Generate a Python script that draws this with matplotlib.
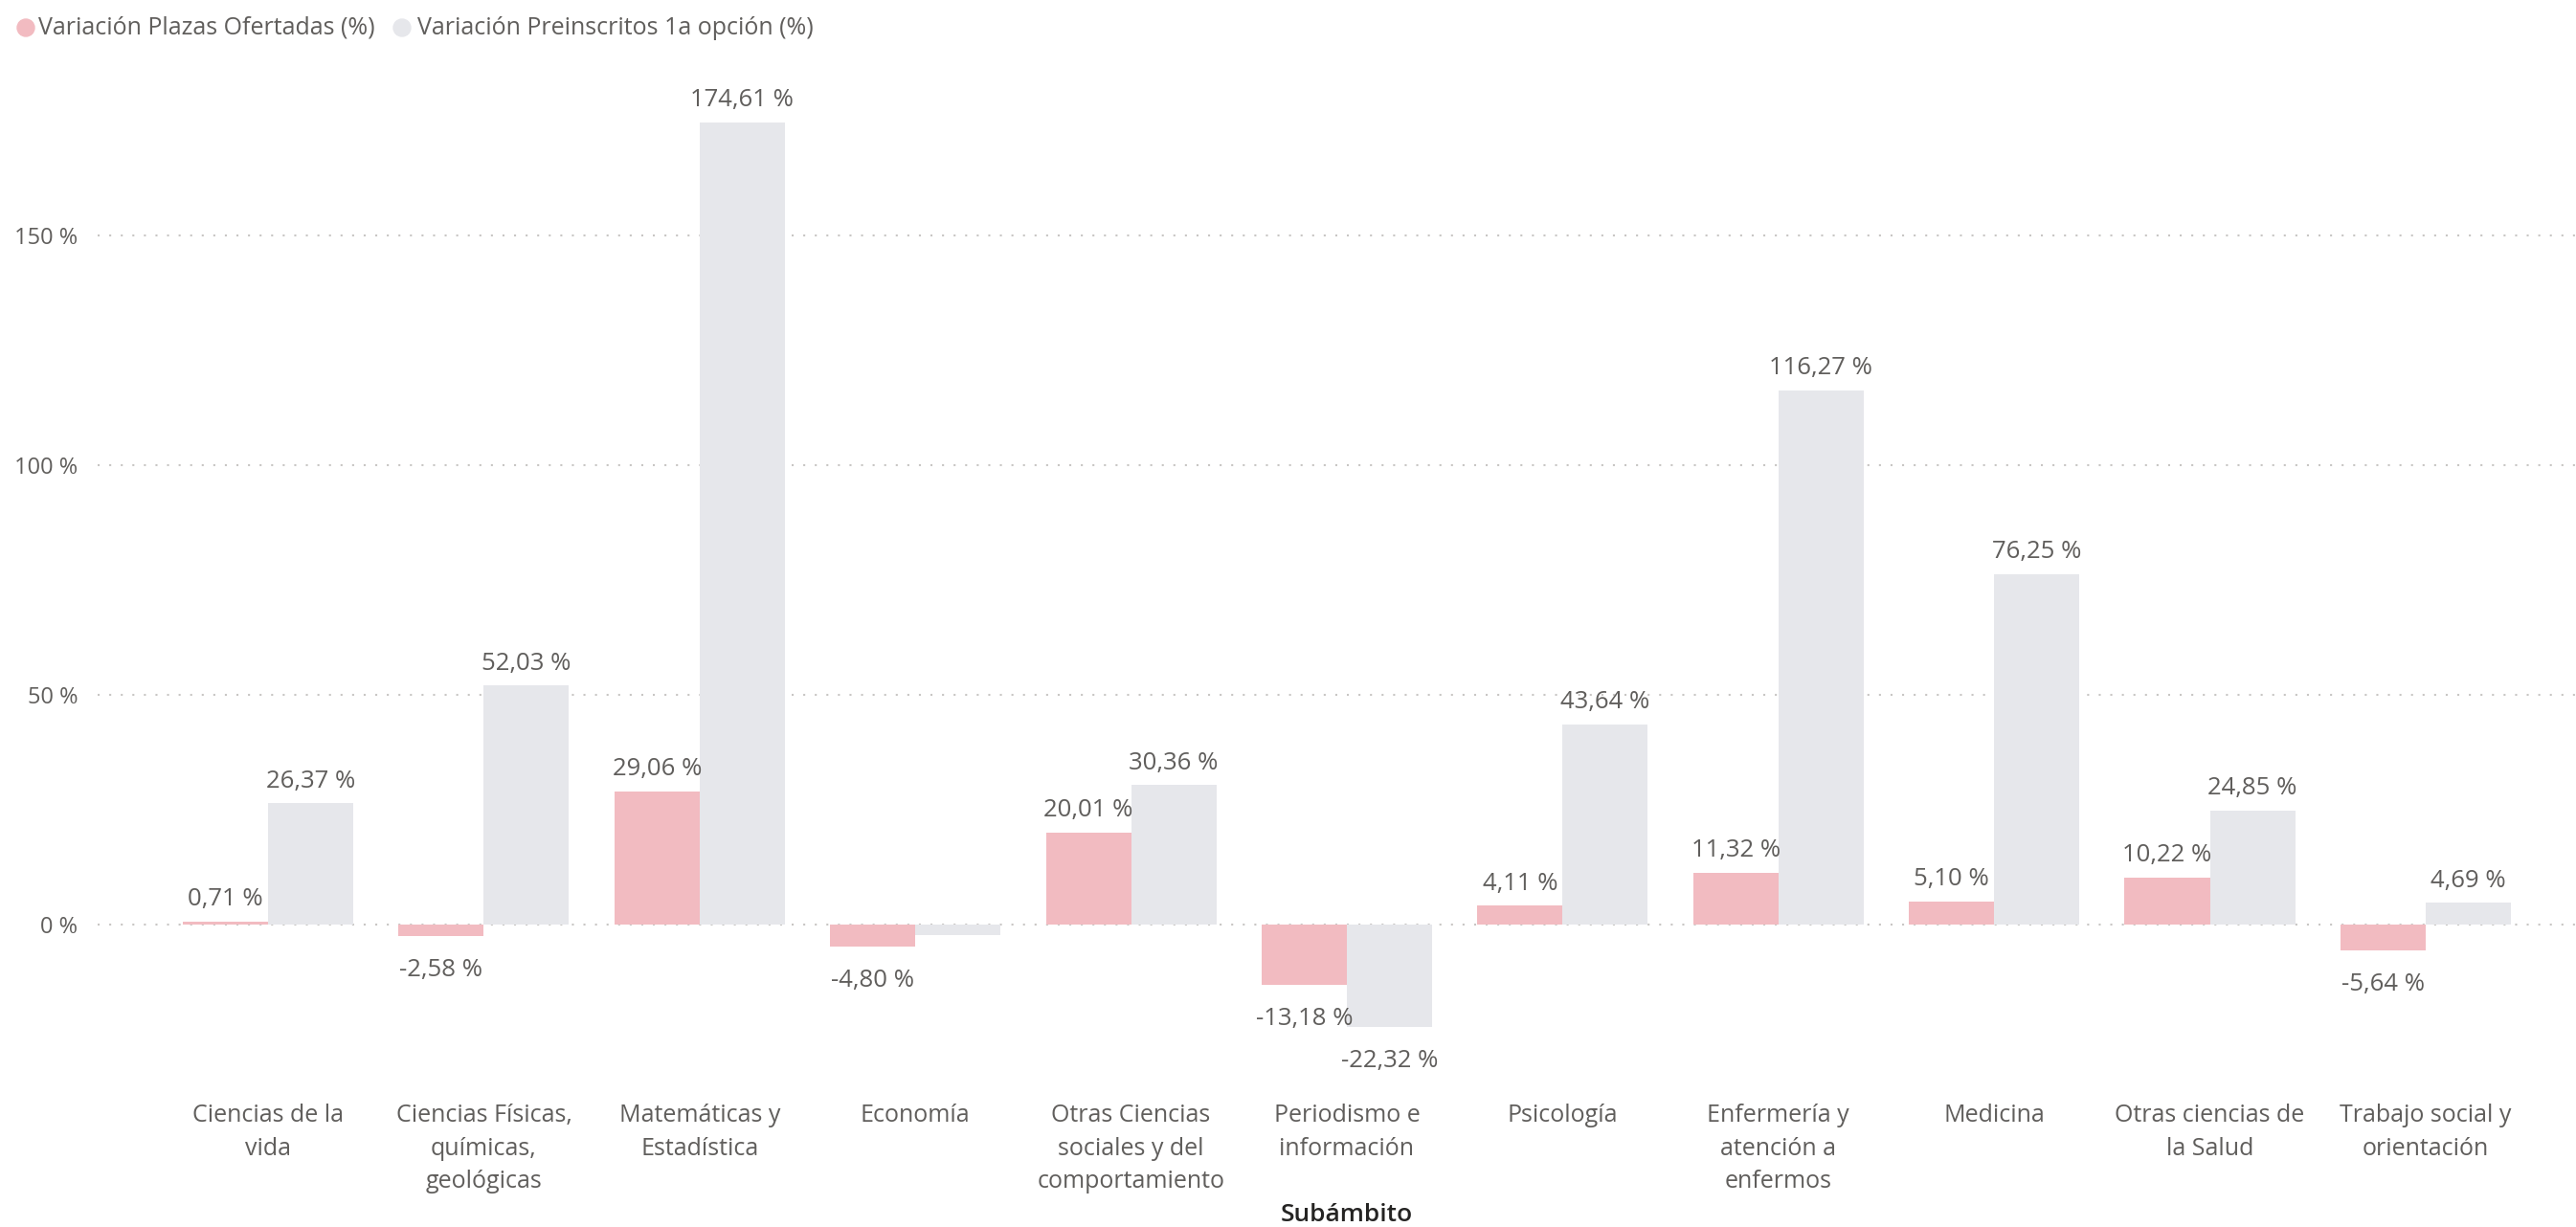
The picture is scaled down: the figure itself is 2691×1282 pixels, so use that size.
import matplotlib
matplotlib.use("Agg")
import matplotlib.pyplot as plt
from matplotlib.patches import Ellipse
import numpy as np

categories = [
    "Ciencias de la\nvida",
    "Ciencias Físicas,\nquímicas,\ngeológicas",
    "Matemáticas y\nEstadística",
    "Economía",
    "Otras Ciencias\nsociales y del\ncomportamiento",
    "Periodismo e\ninformación",
    "Psicología",
    "Enfermería y\natención a\nenfermos",
    "Medicina",
    "Otras ciencias de\nla Salud",
    "Trabajo social y\norientación",
]
plazas = [0.71, -2.58, 29.06, -4.80, 20.01, -13.18, 4.11, 11.32, 5.10, 10.22, -5.64]
preinscritos = [26.37, 52.03, 174.61, -2.35, 30.36, -22.32, 43.64, 116.27, 76.25, 24.85, 4.69]
hidden_pre_labels = [3]  # Economía: label not shown in the original
series_names = ["Variación Plazas Ofertadas (%)", "Variación Preinscritos 1a opción (%)"]
yticks = [0, 50, 100, 150]
xlabel = "Subámbito"

PINK = "#F2BBC1"
GREY = "#E6E7EB"
TXT = "#605E5C"
DARK = "#252423"
FONT = ["Open Sans", "DejaVu Sans"]
plt.rcParams["font.family"] = FONT

W, H = 2691, 1282
fig = plt.figure(figsize=(W / 100, H / 100), dpi=100)
ax_left, ax_top, ax_bottom = 102, 60, 1120
ax = fig.add_axes([ax_left / W, 1 - ax_bottom / H, 1 - ax_left / W, (ax_bottom - ax_top) / H])

px_per = 4.8
zero_px = 966
ax.set_ylim((zero_px - ax_bottom) / px_per, (zero_px - ax_top) / px_per)
ax.set_xlim(-0.79, 10.697)

x = np.arange(len(categories))
bw = 0.395
ax.bar(x - bw / 2, plazas, width=bw, color=PINK, zorder=3)
ax.bar(x + bw / 2, preinscritos, width=bw, color=GREY, zorder=3)

for s in ax.spines.values():
    s.set_visible(False)

ax.set_yticks(yticks)
ax.set_yticklabels([f"{t} %" for t in yticks], fontsize=17, color=TXT)
ax.tick_params(axis="y", length=0, pad=15)
for t in yticks:
    ax.axhline(t, color="#C8C6C4", lw=1.5, ls=(0, (1, 4.8)), zorder=1)

ax.set_xticks(x)
ax.set_xticklabels(categories, fontsize=18, color=TXT, linespacing=1.5)
ax.tick_params(axis="x", length=0, pad=24)


def fmt(v):
    return f"{v:.2f}".replace(".", ",") + " %"


def label(xc, v):
    off = 12 if v >= 0 else -30
    ax.annotate(fmt(v), (xc, v), xytext=(0, off), textcoords="offset points",
                ha="center", va="baseline", fontsize=18.5, color=TXT, zorder=4)


for i, v in enumerate(plazas):
    label(x[i] - bw / 2, v)
for i, v in enumerate(preinscritos):
    if i in hidden_pre_labels:
        continue
    label(x[i] + bw / 2, v)

fig.text(1407 / W, 1 - 1270 / H, xlabel, ha="center", va="center", fontsize=19,
         color=DARK, fontweight="semibold")

# legend
leg_y = 1 - 29 / H
for mx, tx, name, col in [(27, 40, series_names[0], PINK), (420, 436, series_names[1], GREY)]:
    fig.patches.append(Ellipse((mx / W, leg_y), width=18 / W, height=18 / H,
                               transform=fig.transFigure, color=col, zorder=5))
    fig.text(tx / W, leg_y, name, ha="left", va="center", fontsize=18, color=TXT)

fig.savefig("out.png", dpi=100, facecolor="white")
